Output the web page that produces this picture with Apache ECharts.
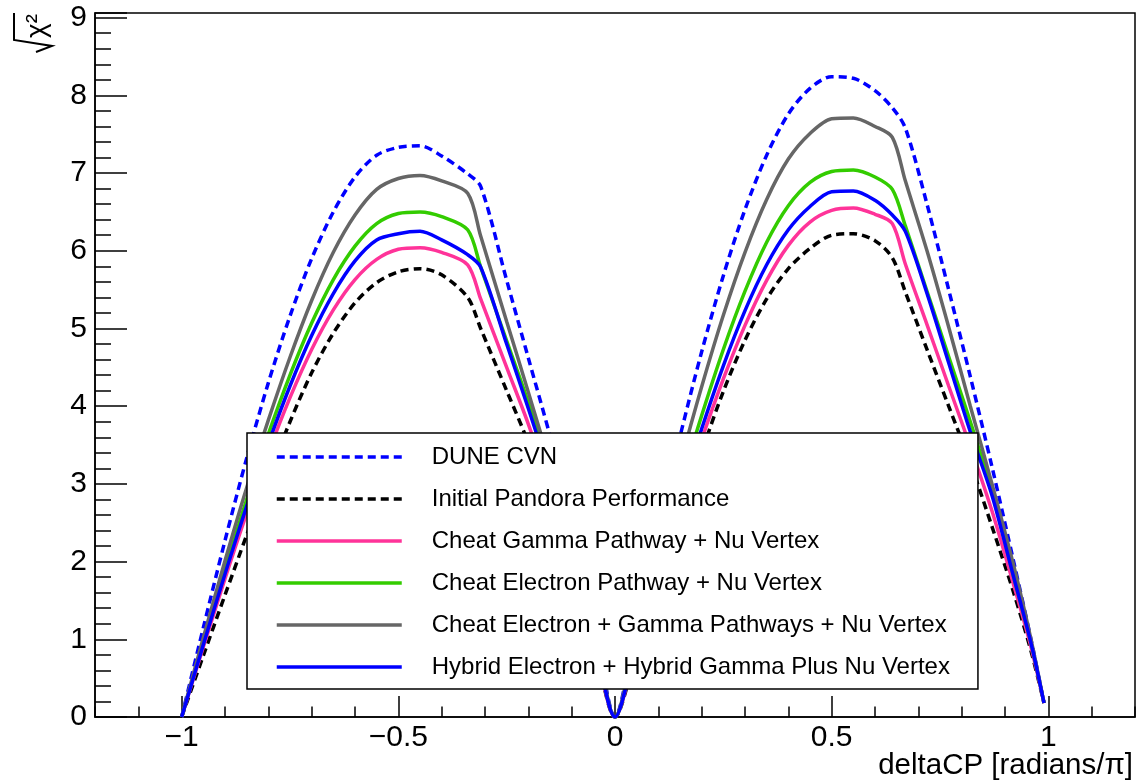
<!DOCTYPE html>
<html>
<head>
<meta charset="utf-8">
<script src="https://cdn.jsdelivr.net/npm/echarts@6/dist/echarts.min.js"></script>
<style>
  html, body { margin: 0; padding: 0; background: #fff; }
  #chart { width: 1138px; height: 781px; }
</style>
</head>
<body>
<div id="chart"></div>
<script>
// deltaCP sampling points [radians/pi]
const deltaCP = [-1, -0.95, -0.9, -0.85, -0.8, -0.75, -0.7, -0.65, -0.6, -0.55, -0.5, -0.45, -0.4, -0.34, -0.31, -0.25, -0.2, -0.15, -0.1, -0.05, 0,
  0.05, 0.1, 0.15, 0.2, 0.25, 0.3, 0.35, 0.4, 0.45, 0.5, 0.55, 0.6, 0.64, 0.67, 0.72, 0.77, 0.82, 0.87, 0.92, 0.96, 0.99]

// sqrt(chi2) per configuration
const duneCvn = [0, 1.15, 2.27, 3.33, 4.3, 5.16, 5.9, 6.5, 6.95, 7.23, 7.33, 7.35, 7.22, 6.99, 6.83, 5.62, 4.62, 3.62, 2.55, 1.35, 0,
  1.22, 2.44, 3.61, 4.7, 5.68, 6.53, 7.23, 7.76, 8.09, 8.24, 8.22, 8.06, 7.84, 7.58, 6.6, 5.5, 4.38, 3.22, 2.0, 1.0, 0.18]
const initialPandora = [0, 0.79, 1.57, 2.34, 3.09, 3.8, 4.43, 4.94, 5.33, 5.59, 5.73, 5.77, 5.69, 5.4, 5.0, 4.2, 3.53, 2.75, 1.9, 1.0, 0,
  0.85, 1.71, 2.57, 3.41, 4.19, 4.85, 5.38, 5.77, 6.03, 6.2, 6.22, 6.13, 5.91, 5.47, 4.73, 4.0, 3.27, 2.45, 1.6, 0.85, 0.18]
const cheatGamma = [0, 0.9, 1.78, 2.62, 3.4, 4.11, 4.73, 5.24, 5.63, 5.89, 6.02, 6.04, 5.98, 5.82, 5.38, 4.5, 3.77, 2.95, 2.05, 1.05, 0,
  0.92, 1.83, 2.72, 3.57, 4.35, 5.04, 5.62, 6.07, 6.37, 6.52, 6.55, 6.47, 6.35, 5.83, 5.05, 4.26, 3.48, 2.65, 1.7, 0.9, 0.18]
const cheatElectron = [0, 0.96, 1.9, 2.8, 3.64, 4.4, 5.07, 5.63, 6.06, 6.35, 6.48, 6.5, 6.44, 6.27, 5.79, 4.84, 4.05, 3.2, 2.2, 1.15, 0,
  1.0, 1.99, 2.96, 3.88, 4.73, 5.48, 6.11, 6.58, 6.88, 7.02, 7.04, 6.95, 6.79, 6.32, 5.48, 4.64, 3.8, 2.9, 1.8, 0.95, 0.18]
const cheatBoth = [0, 1.02, 2.01, 2.95, 3.82, 4.63, 5.36, 5.98, 6.46, 6.79, 6.93, 6.97, 6.9, 6.74, 6.19, 5.09, 4.18, 3.25, 2.3, 1.2, 0,
  1.1, 2.19, 3.25, 4.25, 5.17, 5.98, 6.66, 7.18, 7.51, 7.7, 7.71, 7.6, 7.46, 6.9, 6.0, 5.02, 4.0, 3.0, 1.95, 1.0, 0.18]
const hybrid = [0, 0.93, 1.84, 2.71, 3.52, 4.26, 4.91, 5.45, 5.87, 6.14, 6.22, 6.25, 6.14, 5.95, 5.79, 4.8, 3.97, 3.1, 2.15, 1.1, 0,
  0.96, 1.91, 2.83, 3.71, 4.52, 5.23, 5.82, 6.27, 6.57, 6.76, 6.77, 6.65, 6.46, 6.25, 5.45, 4.56, 3.67, 2.85, 1.8, 0.95, 0.18]

const majorTicks = [-1, -0.5, 0, 0.5, 1]

const curves = [
  { name: 'DUNE CVN', values: duneCvn, color: '#0000ff', dashed: true },
  { name: 'Initial Pandora Performance', values: initialPandora, color: '#000000', dashed: true },
  { name: 'Cheat Gamma Pathway + Nu Vertex', values: cheatGamma, color: '#ff3399', dashed: false },
  { name: 'Cheat Electron Pathway + Nu Vertex', values: cheatElectron, color: '#33cc00', dashed: false },
  { name: 'Cheat Electron + Gamma Pathways + Nu Vertex', values: cheatBoth, color: '#666666', dashed: false },
  { name: 'Hybrid Electron + Hybrid Gamma Plus Nu Vertex', values: hybrid, color: '#0000ff', dashed: false },
]

const FONT = 'Liberation Sans, Arial, Helvetica, sans-serif'
const chart = echarts.init(document.getElementById('chart'))

const series = curves.map(c => ({
  name: c.name,
  type: 'line',
  xAxisIndex: 0,
  yAxisIndex: 0,
  symbol: 'none',
  smooth: 0.3,
  data: deltaCP.map((x, i) => [x, c.values[i]]),
  lineStyle: { color: c.color, width: 3.5, type: c.dashed ? [8, 5] : 'solid' },
  itemStyle: { color: c.color },
}))

const option = {
  animation: false,
  backgroundColor: '#fff',
  grid: { left: 95, right: 3, top: 13, bottom: 64, show: true, borderColor: '#000', borderWidth: 1.5 },
  xAxis: [
    {
      type: 'value', min: -1.2, max: 1.2, interval: 0.1, position: 'bottom',
      axisLine: { show: true, onZero: false, lineStyle: { color: '#000', width: 1.5 } },
      axisTick: { inside: true, length: 21, customValues: majorTicks, lineStyle: { color: '#000', width: 1.5 } },
      axisLabel: {
        customValues: majorTicks, color: '#000', fontSize: 30, fontFamily: FONT, margin: 6,
        formatter: v => (v < 0 ? '\u2212' + Math.abs(v) : String(v)),
      },
      splitLine: { show: false },
    },
    {
      type: 'value', min: -1.2, max: 1.2, interval: 0.1, position: 'bottom',
      axisLine: { show: false, onZero: false },
      axisTick: { inside: true, length: 10.5, lineStyle: { color: '#000', width: 1.5 } },
      axisLabel: { show: false },
      splitLine: { show: false },
    },
  ],
  yAxis: [
    {
      type: 'value', min: 0, max: 9.06, interval: 1, position: 'left',
      axisLine: { show: true, onZero: false, lineStyle: { color: '#000', width: 1.5 } },
      axisTick: { inside: true, length: 32, lineStyle: { color: '#000', width: 1.5 } },
      axisLabel: {
        color: '#000', fontSize: 30, fontFamily: FONT, margin: 8,
        formatter: v => (Math.abs(v - Math.round(v)) < 1e-6 ? String(Math.round(v)) : ''),
      },
      splitLine: { show: false },
    },
    {
      type: 'value', min: 0, max: 9.06, interval: 0.2, position: 'left',
      axisLine: { show: false, onZero: false },
      axisTick: { inside: true, length: 16, lineStyle: { color: '#000', width: 1.5 } },
      axisLabel: { show: false },
      splitLine: { show: false },
    },
  ],
  legend: {
    orient: 'vertical',
    left: 247,
    top: 433,
    padding: [12, 28, 10, 28],
    itemWidth: 125,
    itemHeight: 4,
    itemGap: 18,
    selectedMode: false,
    backgroundColor: '#fff',
    borderColor: '#000',
    borderWidth: 1.5,
    itemStyle: { opacity: 0 },
    lineStyle: { width: 3.5 },
    textStyle: { fontSize: 24, fontFamily: FONT, color: '#000', padding: [0, 0, 0, 25] },
    data: curves.map(c => c.name),
  },
  graphic: [
    {
      type: 'text', x: 1133, y: 766, z: 10,
      style: { text: 'deltaCP [radians/\u03c0]', font: '29.5px ' + FONT, fill: '#000',
        textAlign: 'right', align: 'right', textVerticalAlign: 'middle', verticalAlign: 'middle' },
    },
    {
      type: 'text', x: 37, y: 14, rotation: Math.PI / 2, z: 10,
      style: { text: '\u03c7\u00b2', font: '28px ' + FONT, fill: '#000',
        textAlign: 'right', align: 'right', textVerticalAlign: 'middle', verticalAlign: 'middle' },
    },
    {
      type: 'polyline', z: 10,
      shape: { points: [[14, 13], [14, 40], [52, 46], [36, 52]] },
      style: { stroke: '#000', lineWidth: 2, fill: null },
    },
  ],
  series: series,
}

chart.setOption(option)
</script>
</body>
</html>
